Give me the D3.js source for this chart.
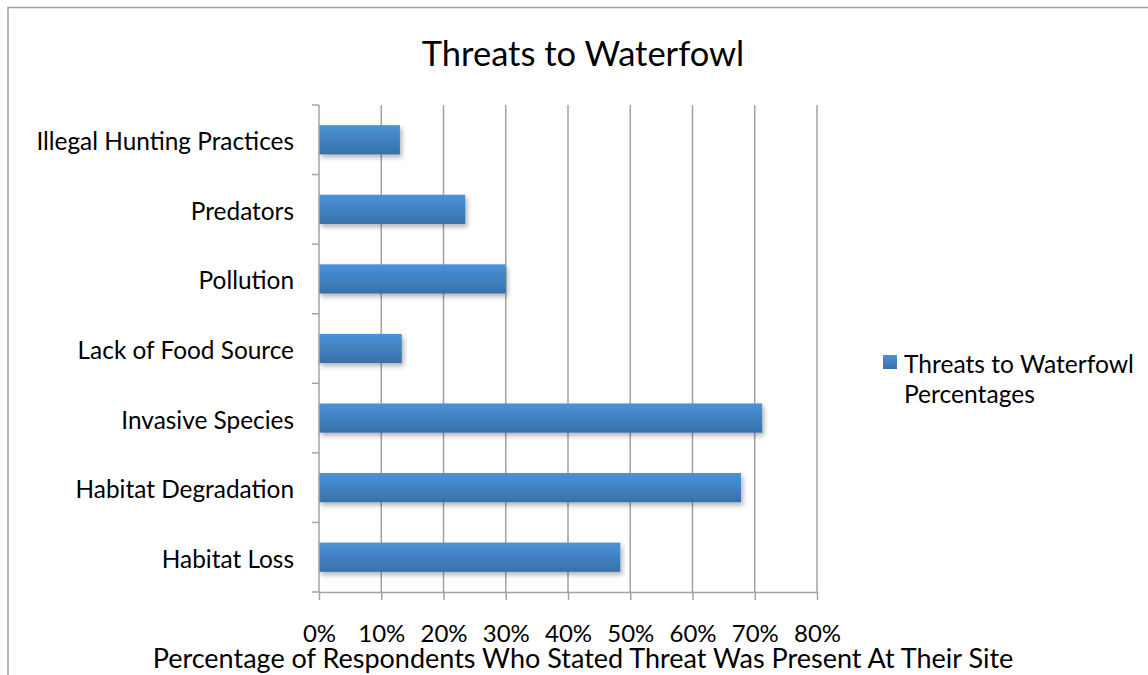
<!DOCTYPE html>
<meta charset="utf-8">
<style>
body { margin: 0; background: #fff; }
text { font-family: "Lato", "Open Sans", sans-serif; fill: #000; }
.grid line { stroke: #a3a3a3; stroke-width: 1.5px; }
.axis path, .axis line { stroke: #a3a3a3; stroke-width: 1.5px; }
</style>
<body>
<svg width="1148" height="675"></svg>
<script src="https://d3js.org/d3.v7.min.js"></script>
<script>

var categories = ["Habitat Loss", "Habitat Degradation", "Invasive Species", "Lack of Food Source", "Pollution", "Predators", "Illegal Hunting Practices"];
var percentages = [48.4, 67.8, 71.2, 13.3, 30.0, 23.5, 13.0];
var xTicks = [0, 10, 20, 30, 40, 50, 60, 70, 80];

var data = categories.map(function(c, i) { return {name: c, value: percentages[i]}; });

var svg = d3.select("svg"),
    margin = {top: 105, left: 319},
    width = 498,
    height = 487,
    g = svg.append("g").attr("transform", "translate(" + margin.left + "," + margin.top + ")");

// outer chart frame (runs off the right and bottom of the page)
svg.append("path")
    .attr("d", "M8,700 L8,7.5 L1160,7.5")
    .attr("fill", "none")
    .attr("stroke", "#a0a0a0")
    .attr("stroke-width", 1.5);

var defs = svg.append("defs");
var grad = defs.append("linearGradient")
    .attr("id", "barGrad")
    .attr("x1", 0).attr("y1", 0).attr("x2", 0).attr("y2", 1);
grad.append("stop").attr("offset", "0%").attr("stop-color", "#4a93d7");
grad.append("stop").attr("offset", "100%").attr("stop-color", "#3870a9");

var shadow = defs.append("filter").attr("id", "shadow")
    .attr("x", "-10%").attr("y", "-20%").attr("width", "130%").attr("height", "160%");
shadow.append("feDropShadow")
    .attr("dx", 2).attr("dy", 3).attr("stdDeviation", 2.5)
    .attr("flood-color", "#000").attr("flood-opacity", 0.3);

var x = d3.scaleLinear()
    .domain([0, 80])
    .range([0, width]);

var y = d3.scaleBand()
    .domain(categories.slice().reverse())
    .range([0, height])
    .paddingInner(0.58)
    .paddingOuter(0.29);

var yTickScale = d3.scaleLinear().domain([0, categories.length]).range([0, height]);

// vertical gridlines
g.append("g")
    .attr("class", "grid")
    .selectAll("line")
    .data(xTicks.slice(1))
    .enter().append("line")
      .attr("x1", function(d) { return x(d); })
      .attr("x2", function(d) { return x(d); })
      .attr("y1", 0)
      .attr("y2", height);

// bars
g.selectAll(".bar")
    .data(data)
    .enter().append("rect")
      .attr("class", "bar")
      .attr("x", 0)
      .attr("y", function(d) { return y(d.name); })
      .attr("width", function(d) { return x(d.value); })
      .attr("height", y.bandwidth())
      .attr("fill", "url(#barGrad)")
      .attr("filter", "url(#shadow)");

// y axis: line plus ticks between categories
var yAxis = g.append("g").attr("class", "axis axis--y");
yAxis.append("line")
    .attr("x1", 0).attr("x2", 0)
    .attr("y1", 0).attr("y2", height);
yAxis.selectAll(".tick")
    .data(d3.range(categories.length + 1))
    .enter().append("line")
      .attr("x1", -7).attr("x2", 0)
      .attr("y1", function(d) { return yTickScale(d); })
      .attr("y2", function(d) { return yTickScale(d); });
yAxis.selectAll(".lbl")
    .data(categories)
    .enter().append("text")
      .attr("x", -25)
      .attr("y", function(d) { return y(d) + y.bandwidth() / 2 + 2; })
      .attr("dy", "0.35em")
      .attr("text-anchor", "end")
      .style("font-size", "24.4px")
      .text(function(d) { return d; });

// x axis
var xGroup = g.append("g")
    .attr("class", "axis axis--x")
    .attr("transform", "translate(0," + height + ")")
    .call(d3.axisBottom(x)
      .tickValues(xTicks)
      .tickFormat(function(d) { return d + "%"; })
      .tickSizeInner(8)
      .tickSizeOuter(0)
      .tickPadding(25));
xGroup.select(".domain").attr("stroke", "#a3a3a3");
xGroup.selectAll("text")
    .style("font-family", "Lato, 'Open Sans', sans-serif")
    .style("font-size", "24px")
    .attr("fill", "#000");

// title
svg.append("text")
    .attr("x", 583)
    .attr("y", 66)
    .attr("text-anchor", "middle")
    .style("font-size", "34.5px")
    .text("Threats to Waterfowl");

// x axis title
svg.append("text")
    .attr("x", 583)
    .attr("y", 668)
    .attr("text-anchor", "middle")
    .style("font-size", "27px")
    .text("Percentage of Respondents Who Stated Threat Was Present At Their Site");

// legend
var legend = svg.append("g").attr("transform", "translate(883,355)");
legend.append("rect")
    .attr("width", 14)
    .attr("height", 14)
    .attr("fill", "url(#barGrad)");
legend.append("text")
    .attr("x", 21)
    .attr("y", 18)
    .style("font-size", "24.6px")
    .text("Threats to Waterfowl");
legend.append("text")
    .attr("x", 21)
    .attr("y", 48)
    .style("font-size", "24.6px")
    .text("Percentages");

</script>
</body>
